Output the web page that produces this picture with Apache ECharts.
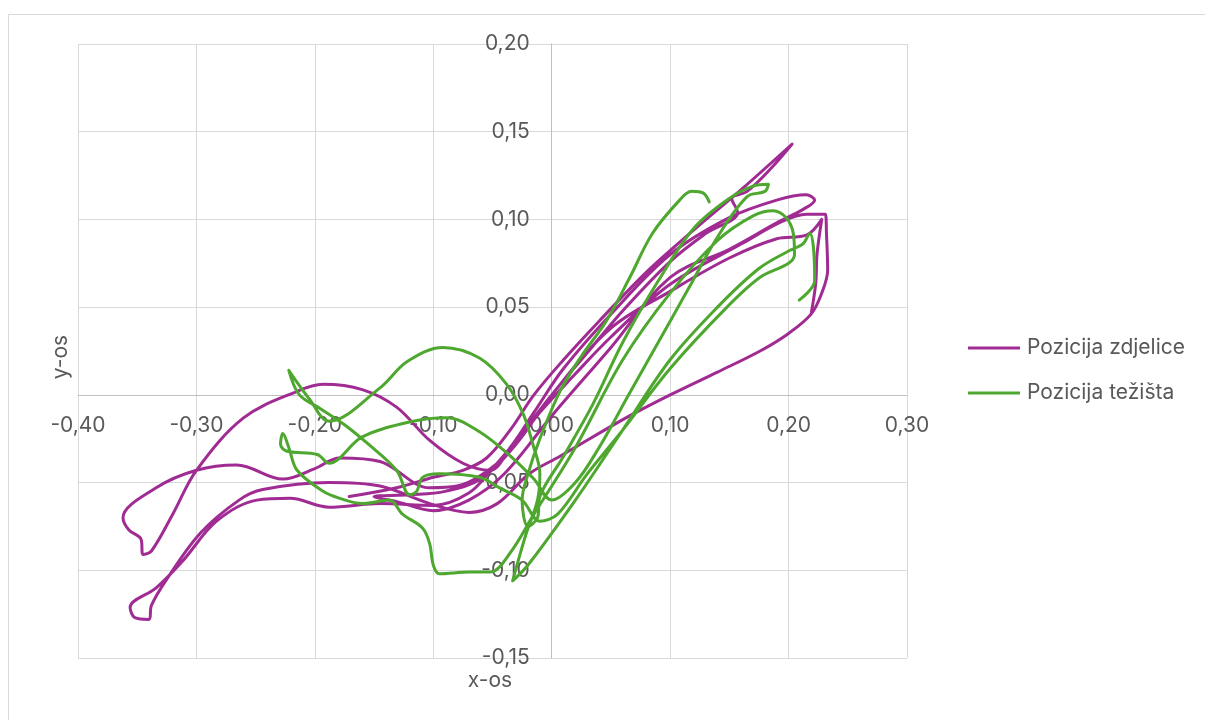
<!DOCTYPE html>
<html>
<head>
<meta charset="utf-8">
<script src="https://cdn.jsdelivr.net/npm/echarts@6/dist/echarts.min.js"></script>
<style>
  html, body { margin: 0; padding: 0; background: #fff; }
  #chart { width: 1205px; height: 720px; }
</style>
</head>
<body>
<div id="chart"></div>
<script>
// series names
var seriesNames = ['Pozicija zdjelice', 'Pozicija težišta']

// pelvis trajectory [x, y]
var pelvisPath = [
  [-0.171, -0.058], [-0.131, -0.053], [-0.100, -0.047], [-0.075, -0.043], [-0.055, -0.036], [-0.035, -0.020],
  [-0.015, 0.000], [0.010, 0.020], [0.040, 0.042], [0.080, 0.070], [0.120, 0.094], [0.160, 0.117], [0.203, 0.143],
  [0.185, 0.129], [0.165, 0.116], [0.152, 0.112], [0.157, 0.104], [0.130, 0.092], [0.100, 0.076], [0.060, 0.048],
  [0.030, 0.024], [0.000, 0.000], [-0.030, -0.026], [-0.050, -0.042], [-0.070, -0.056], [-0.100, -0.063],
  [-0.145, -0.062], [-0.188, -0.064], [-0.221, -0.059], [-0.249, -0.060], [-0.283, -0.072], [-0.312, -0.095],
  [-0.334, -0.110], [-0.356, -0.121], [-0.352, -0.127], [-0.340, -0.128], [-0.338, -0.120], [-0.325, -0.105],
  [-0.297, -0.079], [-0.264, -0.060], [-0.244, -0.054], [-0.188, -0.050], [-0.145, -0.052], [-0.103, -0.062],
  [-0.070, -0.067], [-0.046, -0.062], [-0.019, -0.045], [0.007, -0.035], [0.063, -0.013], [0.100, 0.000],
  [0.140, 0.013], [0.176, 0.025], [0.200, 0.035], [0.219, 0.046], [0.228, 0.058], [0.233, 0.071], [0.232, 0.092],
  [0.231, 0.103], [0.215, 0.103], [0.195, 0.099], [0.160, 0.086], [0.100, 0.063], [0.050, 0.033], [0.020, 0.012],
  [-0.010, -0.010], [-0.035, -0.032], [-0.060, -0.046], [-0.080, -0.052], [-0.103, -0.053], [-0.145, -0.038],
  [-0.179, -0.036], [-0.200, -0.042], [-0.227, -0.048], [-0.266, -0.040], [-0.300, -0.043], [-0.334, -0.053],
  [-0.362, -0.070], [-0.357, -0.077], [-0.347, -0.082], [-0.345, -0.091], [-0.338, -0.089], [-0.320, -0.068],
  [-0.300, -0.043], [-0.260, -0.013], [-0.215, 0.002], [-0.193, 0.006], [-0.160, 0.003], [-0.131, -0.007],
  [-0.103, -0.026], [-0.075, -0.039], [-0.052, -0.043], [-0.035, -0.030], [-0.015, -0.010], [0.010, 0.015],
  [0.050, 0.046], [0.100, 0.080], [0.150, 0.101], [0.190, 0.111], [0.215, 0.114], [0.222, 0.111], [0.213, 0.106],
  [0.190, 0.098], [0.150, 0.083], [0.100, 0.067], [0.050, 0.027], [0.000, -0.012], [-0.040, -0.045],
  [-0.070, -0.060], [-0.100, -0.066], [-0.130, -0.061], [-0.150, -0.058], [-0.120, -0.057], [-0.090, -0.055],
  [-0.060, -0.048], [-0.030, -0.028], [0.000, 0.000], [0.050, 0.038], [0.100, 0.059], [0.150, 0.078],
  [0.190, 0.089], [0.215, 0.091], [0.228, 0.100], [0.224, 0.080], [0.223, 0.064], [0.219, 0.046]
]

// centre of mass trajectory [x, y]
var comPath = [
  [0.133, 0.110], [0.128, 0.115], [0.118, 0.116], [0.108, 0.111], [0.085, 0.092], [0.066, 0.067], [0.046, 0.042],
  [0.025, 0.022], [0.007, 0.002], [-0.010, -0.025], [-0.020, -0.045], [-0.025, -0.060], [-0.020, -0.075],
  [-0.012, -0.070], [-0.010, -0.058], [0.010, -0.035], [0.035, -0.005], [0.060, 0.030], [0.090, 0.065],
  [0.120, 0.095], [0.150, 0.112], [0.170, 0.119], [0.183, 0.120], [0.180, 0.116], [0.165, 0.113], [0.140, 0.090],
  [0.115, 0.060], [0.090, 0.030], [0.065, 0.000], [0.040, -0.030], [0.020, -0.050], [0.000, -0.060],
  [-0.015, -0.048], [-0.033, -0.036], [-0.061, -0.021], [-0.089, -0.013], [-0.117, -0.015], [-0.160, -0.024],
  [-0.188, -0.039], [-0.198, -0.034], [-0.224, -0.032], [-0.229, -0.028], [-0.227, -0.022], [-0.222, -0.030],
  [-0.215, -0.043], [-0.193, -0.055], [-0.179, -0.059], [-0.160, -0.062], [-0.137, -0.060], [-0.126, -0.068],
  [-0.109, -0.076], [-0.103, -0.085], [-0.100, -0.097], [-0.095, -0.102], [-0.069, -0.101], [-0.052, -0.101],
  [-0.035, -0.090], [-0.015, -0.068], [0.020, -0.030], [0.060, 0.020], [0.100, 0.058], [0.140, 0.088],
  [0.170, 0.102], [0.187, 0.105], [0.198, 0.101], [0.204, 0.092], [0.205, 0.080], [0.200, 0.075], [0.176, 0.067],
  [0.148, 0.050], [0.100, 0.015], [0.060, -0.020], [0.030, -0.045], [0.005, -0.068], [-0.010, -0.072],
  [-0.025, -0.060], [-0.044, -0.053], [-0.061, -0.047], [-0.095, -0.045], [-0.109, -0.047], [-0.114, -0.055],
  [-0.120, -0.057], [-0.131, -0.043], [-0.155, -0.028], [-0.175, -0.017], [-0.195, -0.008], [-0.213, 0.000],
  [-0.222, 0.014], [-0.218, 0.010], [-0.205, -0.002], [-0.188, -0.015], [-0.145, 0.004], [-0.122, 0.019],
  [-0.092, 0.027], [-0.061, 0.021], [-0.038, 0.006], [-0.024, -0.011], [-0.016, -0.028], [-0.010, -0.045],
  [-0.012, -0.060], [-0.022, -0.080], [-0.033, -0.106], [-0.020, -0.097], [0.020, -0.060], [0.060, -0.020],
  [0.100, 0.020], [0.140, 0.050], [0.175, 0.072], [0.200, 0.082], [0.212, 0.086], [0.218, 0.092],
  [0.221, 0.084], [0.222, 0.065], [0.209, 0.054]
]

// axis ranges [min, max, interval]
var xRange = [-0.4, 0.3, 0.1]
var yRange = [-0.15, 0.2, 0.05]

var W = 1205, H = 720
var grid = { left: 78, top: 44, right: 298, bottom: 62 }
var plotW = W - grid.left - grid.right
var plotH = H - grid.top - grid.bottom
// axes cross at zero: shift them in from the grid edges
var xAxisOffset = -plotH * (0 - yRange[0]) / (yRange[1] - yRange[0])
var yAxisOffset = -plotW * (0 - xRange[0]) / (xRange[1] - xRange[0])

var font = 'Inter, "Noto Sans", sans-serif'
var fs = 21
var commaFmt = function (v) { return v.toFixed(2).replace('.', ',') }

var chart = echarts.init(document.getElementById('chart'))
var option = {
  animation: false,
  backgroundColor: '#fff',
  textStyle: { fontFamily: font },
  grid: grid,
  legend: {
    orient: 'vertical',
    left: 963,
    top: 332,
    icon: 'rect',
    itemWidth: 52,
    itemHeight: 3,
    itemGap: 23,
    textStyle: { fontFamily: font, fontSize: fs, color: '#595959', lineHeight: 22, padding: [0, 0, 0, 2] },
    data: seriesNames
  },
  xAxis: {
    type: 'value',
    position: 'bottom',
    offset: xAxisOffset,
    min: xRange[0], max: xRange[1], interval: xRange[2],
    axisLine: { onZero: false, lineStyle: { color: '#bfbfbf', width: 1 } },
    axisTick: { show: false },
    axisLabel: { formatter: commaFmt, fontSize: fs, color: '#595959', margin: 20 },
    splitLine: { lineStyle: { color: '#d9d9d9', width: 1 } }
  },
  yAxis: {
    type: 'value',
    position: 'left',
    offset: yAxisOffset,
    min: yRange[0], max: yRange[1], interval: yRange[2],
    axisLine: { show: true, onZero: false, lineStyle: { color: '#bfbfbf', width: 1 } },
    axisTick: { show: false },
    axisLabel: { formatter: commaFmt, fontSize: fs, color: '#595959', margin: 22 },
    splitLine: { lineStyle: { color: '#d9d9d9', width: 1 } }
  },
  graphic: [
    {
      type: 'rect', silent: true, z: -10,
      shape: { x: 8.5, y: 14.5, width: 1300, height: 800 },
      style: { fill: 'none', stroke: '#d9d9d9', lineWidth: 1 }
    },
    {
      type: 'text', x: 61, y: 357, rotation: Math.PI / 2,
      style: { text: 'y-os', fontFamily: font, fontSize: fs, fill: '#595959', align: 'center', verticalAlign: 'middle' }
    },
    {
      type: 'text', x: 490, y: 681,
      style: { text: 'x-os', fontFamily: font, fontSize: fs, fill: '#595959', align: 'center', verticalAlign: 'middle' }
    }
  ],
  series: [
    {
      name: seriesNames[0],
      type: 'line',
      data: pelvisPath,
      smooth: 0.35,
      showSymbol: false,
      lineStyle: { color: '#A02B93', width: 3, cap: 'round', join: 'round' },
      itemStyle: { color: '#A02B93' }
    },
    {
      name: seriesNames[1],
      type: 'line',
      data: comPath,
      smooth: 0.35,
      showSymbol: false,
      lineStyle: { color: '#4EA72E', width: 3, cap: 'round', join: 'round' },
      itemStyle: { color: '#4EA72E' }
    }
  ]
}
chart.setOption(option)
</script>
</body>
</html>
